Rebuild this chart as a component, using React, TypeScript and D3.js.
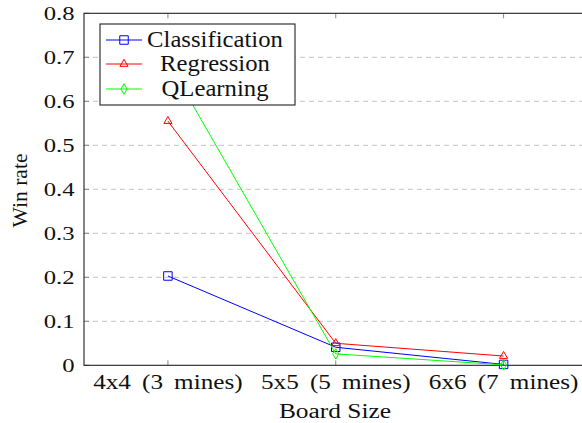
import * as d3 from 'd3';
import React from 'react';

// Chart data
const boardSizes = ['4x4 (3 mines)', '5x5 (5 mines)', '6x6 (7 mines)'];
const classification = [0.203, 0.041, 0.002];
const regression = [0.555, 0.05, 0.021];
const qlearning = [0.69, 0.026, 0.001];
const yTicks = [0, 0.1, 0.2, 0.3, 0.4, 0.5, 0.6, 0.7, 0.8];
const seriesNames = ['Classification', 'Regression', 'QLearning'];
const seriesColors = ['#0000ff', '#ff0000', '#00ff00'];
const seriesMarks = ['square', 'triangle', 'diamond'];

const FONT = "'Liberation Serif', 'Times New Roman', Tinos, serif";

const W = 582, H = 423;
const left = 84, top = 13.3, bottom = 365.3, right = 587.5;

const symbols: Record<string, d3.SymbolType> = {
    square: d3.symbolSquare,
    triangle: d3.symbolTriangle,
    diamond: d3.symbolDiamond,
};
const symbolSize: Record<string, number> = { square: 72, triangle: 28, diamond: 32 };

// text stretched horizontally (the original looks widened)
const Label = ({ x, y, sx = 1, size, anchor = 'middle', rotate = 0, children, spacing = 0 }: any) => (
    <text
        transform={`translate(${x},${y}) rotate(${rotate}) scale(${sx},1)`}
        textAnchor={anchor}
        fill="#111"
        fontFamily={FONT}
        fontSize={size}
        wordSpacing={spacing}
    >
        {children}
    </text>
);

const App = () => {
    const x = d3.scalePoint<string>().domain(boardSizes).range([left, right]).padding(0.5);
    const y = d3.scaleLinear().domain([0, 0.8]).range([bottom, top]);

    const line = d3.line<number>()
        .x((_, i) => x(boardSizes[i]) as number)
        .y(d => y(d));

    const allSeries = [classification, regression, qlearning];
    const markPath = (m: string) => d3.symbol(symbols[m], symbolSize[m])() as string;

    const rowY = [40, 64, 89];

    return (
        <svg width={W} height={H} fontFamily={FONT}
            style={{ position: 'absolute', left: 0, top: 0, background: 'white', fontFamily: FONT }}>
            {/* Grid lines */}
            {yTicks.slice(1, -1).map(t => (
                <line key={`g${t}`} x1={left} x2={W} y1={y(t)} y2={y(t)}
                    stroke="#c4c4c4" strokeWidth={1} strokeDasharray="5,4" />
            ))}

            {/* Tick marks */}
            <g stroke="#888" strokeWidth={1}>
                {yTicks.map(t => (
                    <line key={`yt${t}`} x1={left} x2={left + 5} y1={y(t)} y2={y(t)} />
                ))}
                {boardSizes.map(b => (
                    <g key={`xt${b}`}>
                        <line x1={x(b)} x2={x(b)} y1={bottom} y2={bottom - 5} />
                        <line x1={x(b)} x2={x(b)} y1={top} y2={top + 5} />
                    </g>
                ))}
            </g>

            {/* Plot frame */}
            <rect x={left} y={top} width={right - left} height={bottom - top}
                fill="none" stroke="#222" strokeWidth={1.1} />

            {/* Y tick labels */}
            {yTicks.map(t => (
                <Label key={`yl${t}`} x={74.5} y={y(t) + 7} anchor="end" size={19} sx={1.3}>
                    {t === 0 ? '0' : t.toFixed(1)}
                </Label>
            ))}

            {/* X tick labels */}
            {boardSizes.map(b => (
                <Label key={`xl${b}`} x={x(b)} y={389} size={21} sx={1.2} spacing={4}>
                    {b}
                </Label>
            ))}

            {/* Axis titles */}
            <Label x={335} y={418} size={20} sx={1.27}>Board Size</Label>
            <Label x={27} y={190.5} size={21} sx={1.03} rotate={-90}>Win rate</Label>

            {/* Series */}
            {allSeries.map((vals, s) => (
                <g key={seriesNames[s]}>
                    <path d={line(vals) as string} fill="none" stroke={seriesColors[s]} strokeWidth={1} />
                    {vals.map((v, i) => (
                        <path key={i} transform={`translate(${x(boardSizes[i])},${y(v)})`}
                            d={markPath(seriesMarks[s])} fill="none" stroke={seriesColors[s]} strokeWidth={1} />
                    ))}
                </g>
            ))}

            {/* Legend */}
            <g>
                <rect x={100} y={24} width={195} height={81} fill="white" stroke="#222" strokeWidth={1.1} />
                {seriesNames.map((name, s) => (
                    <g key={`lg${name}`}>
                        <line x1={106} x2={142} y1={rowY[s]} y2={rowY[s]} stroke={seriesColors[s]} strokeWidth={1} />
                        <path transform={`translate(124,${rowY[s]})`} d={markPath(seriesMarks[s])}
                            fill="none" stroke={seriesColors[s]} strokeWidth={1} />
                        <Label x={215} y={rowY[s] + 6.5} size={23} sx={1.075}>{name}</Label>
                    </g>
                ))}
            </g>
        </svg>
    );
};

export default App;
